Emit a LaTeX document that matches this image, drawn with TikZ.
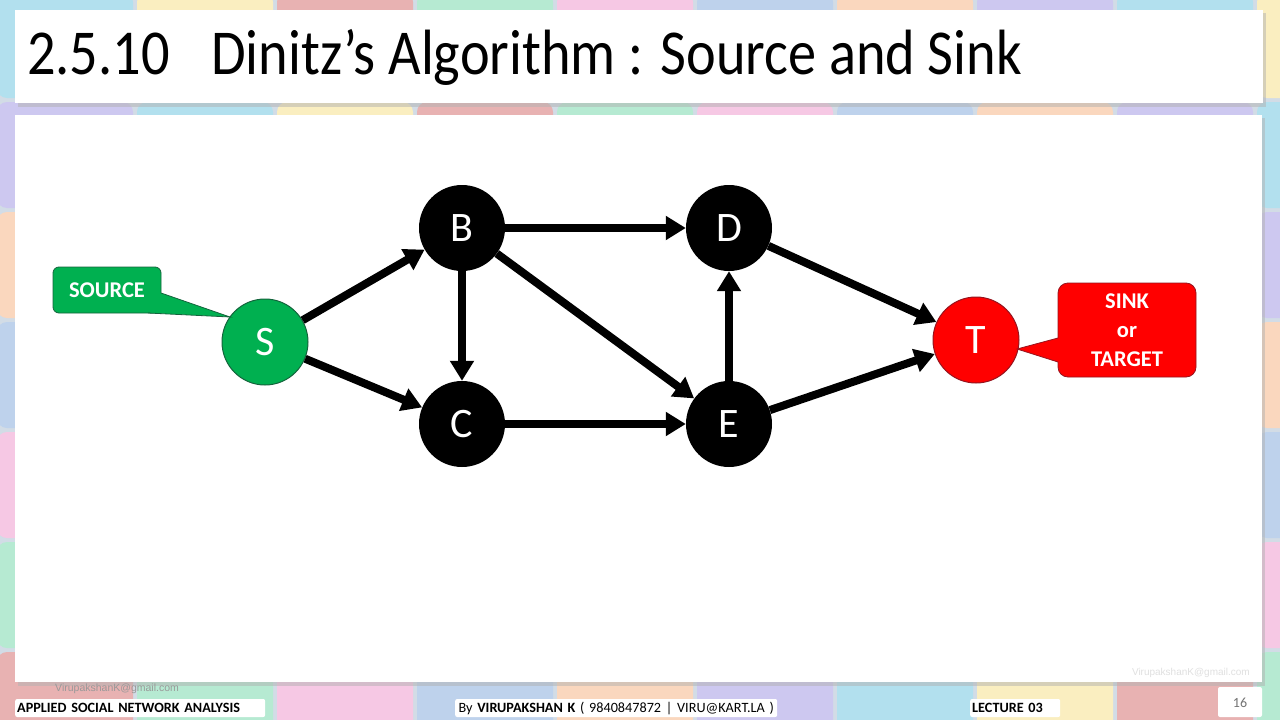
\documentclass[tikz,border=0pt]{standalone}
\usepackage{fontspec}
\setmainfont{Carlito}
\newfontfamily\titlefont[FakeStretch=0.88]{Carlito}
\newfontfamily\mailfont{Liberation Sans}
\usetikzlibrary{arrows.meta}
\definecolor{srcgreen}{RGB}{0,176,80}
\definecolor{srcedge}{RGB}{20,100,60}
\definecolor{sinkred}{RGB}{255,0,0}
\definecolor{sinkedge}{RGB}{150,20,30}
\definecolor{tileA}{RGB}{178,224,238}
\definecolor{tileB}{RGB}{182,234,210}
\definecolor{tileC}{RGB}{250,215,190}
\definecolor{tileD}{RGB}{250,238,192}
\definecolor{tileE}{RGB}{246,200,228}
\definecolor{tileF}{RGB}{205,200,240}
\definecolor{tileG}{RGB}{232,178,178}
\definecolor{tileH}{RGB}{190,210,236}
\definecolor{bgbase}{RGB}{210,220,230}
\tikzset{
  vert/.style={circle, fill=black, minimum size=86pt, inner sep=0pt, text=white, font=\fontsize{42}{42}\selectfont},
  edge/.style={line width=8pt, -{Triangle[length=20pt,width=23pt]}},
  panel/.style={fill=white},
  shade/.style={fill=black!30, opacity=0.5},
  foot/.style={fill=white, rounded corners=2pt, minimum height=18pt, inner sep=2pt, anchor=west, font=\fontsize{14.2}{14.2}\selectfont},
  callfont/.style={font=\fontsize{22.5}{29}\selectfont\bfseries, text=white, align=center}
}
\begin{document}
\begin{tikzpicture}[x=1pt,y=-1pt]
\useasboundingbox (0,0) rectangle (1280,720);
% background tiles
\fill[bgbase] (0,0) rectangle (1280,720);
\foreach \i in {0,...,9}{
  \foreach \j in {0,...,6}{
    \pgfmathtruncatemacro{\k}{mod(\i*3+\j*5,8)}
    \ifcase\k \def\tc{tileA}\or \def\tc{tileB}\or \def\tc{tileC}\or \def\tc{tileD}\or \def\tc{tileE}\or \def\tc{tileF}\or \def\tc{tileG}\or \def\tc{tileH}\fi
    \fill[\tc, rounded corners=10pt] (\i*140-5+2, \j*110-10+2) rectangle (\i*140+135-2, \j*110+100-2);
  }
}
% panels
\fill[shade] (18,13) rectangle (1266,107);
\fill[panel] (15,10) rectangle (1263,103);
\fill[shade] (18,118) rectangle (1265,686);
\fill[panel] (15,115) rectangle (1262,682);
% title
\node[anchor=base west, inner sep=0pt, font=\titlefont\fontsize{64}{64}\selectfont] (num) at (27,74) {2.5.10};
\node[anchor=base west, inner sep=0pt, font=\titlefont\fontsize{64}{64}\selectfont] (title) at (211,74) {Dinitz’s Algorithm : Source and Sink};
% nodes
\node[vert, fill=srcgreen, draw=srcedge, line width=1pt] (S) at (265,342) {S};
\node[vert] (B) at (462,228) {B};
\node[vert] (C) at (462,424) {C};
\node[vert] (D) at (729,228) {D};
\node[vert] (E) at (729,424) {E};
\node[vert, fill=sinkred, draw=sinkedge, line width=1pt] (T) at (976,340) {T};
% edges
\draw[edge] (S) -- (B);
\draw[edge] (S) -- (C);
\draw[edge] (B) -- (D);
\draw[edge] (B) -- (C);
\draw[edge] (B) -- (E);
\draw[edge] (C) -- (E);
\draw[edge] (E) -- (D);
\draw[edge] (D) -- (T);
\draw[edge] (E) -- (T);
% source callout
\draw[fill=srcgreen, draw=srcedge, line width=0.8pt, rounded corners=6pt] (53,267) rectangle (161,313);
\coordinate (stip) at (230,317);
\fill[srcgreen] (150,293) -- (161,293) -- (stip) -- (150,313) -- cycle;
\draw[srcedge, line width=0.8pt] (161,293) -- (stip) -- (148,313);
\node[callfont] (srclabel) at (107,290) {SOURCE};
% sink callout
\draw[fill=sinkred, draw=sinkedge, line width=0.8pt, rounded corners=10pt] (1058,283) rectangle (1196,377);
\coordinate (ttip) at (1017,349);
\fill[sinkred] (1064,338) -- (1058,338) -- (ttip) -- (1058,362) -- (1064,362) -- cycle;
\draw[sinkedge, line width=0.8pt] (1058,338) -- (ttip) -- (1058,362);
\node[callfont] (sinklabel) at (1127,330) {SINK\\or\\TARGET};
% footer
\node[anchor=west, inner sep=0pt, text=black!40, font=\mailfont\fontsize{10.5}{10.5}\selectfont] (mail1) at (55,689) {VirupakshanK@gmail.com};
\node[anchor=east, inner sep=0pt, text=black!12, font=\mailfont\fontsize{10}{10}\selectfont] (mail2) at (1250,673) {VirupakshanK@gmail.com};
\node[foot, minimum width=250pt, text width=246pt, align=left] (f1) at (15,708) {\bfseries APPLIED SOCIAL NETWORK ANALYSIS};
\node[foot, minimum width=322pt, text width=318pt, align=center] (f2) at (455,708) {By \textbf{VIRUPAKSHAN K} ( 9840847872 | VIRU@KART.LA )};
\node[foot, minimum width=90pt, text width=86pt, align=left] (f3) at (970,708) {\bfseries LECTURE 03};
\fill[white, rounded corners=2pt] (1218,687) rectangle (1262,717);
\node[text=black!55, font=\fontsize{14}{14}\selectfont] (pg) at (1240,703) {16};
\end{tikzpicture}
\end{document}
